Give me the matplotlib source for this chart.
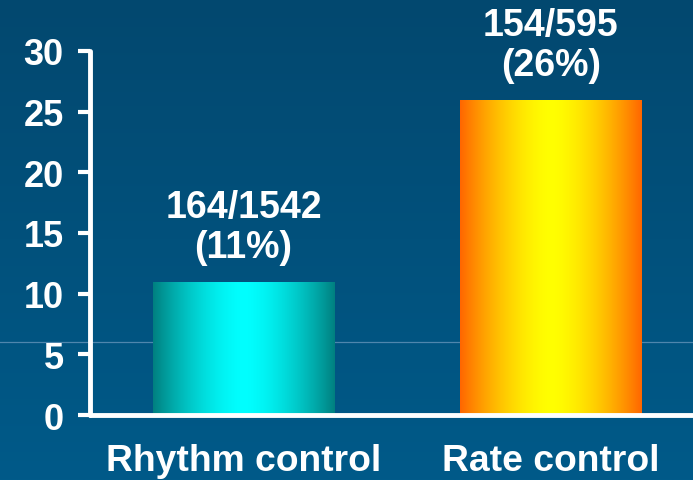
import numpy as np
import matplotlib
matplotlib.use("Agg")
import matplotlib.pyplot as plt
from matplotlib.lines import Line2D
from matplotlib.colors import to_rgb

# Data
categories = ["Rhythm control", "Rate control"]
events = [164, 154]
totals = [1542, 595]
percents = [11, 26]
y_ticks = [0, 5, 10, 15, 20, 25, 30]

# Bar gradient colours: (edge, centre)
bar_colors = [("#008080", "#00ffff"), ("#ff6600", "#ffff00")]

plt.rcParams["font.family"] = ["Liberation Sans", "DejaVu Sans"]
plt.rcParams["font.weight"] = "bold"

W, H = 693, 481
fig = plt.figure(figsize=(W / 100, H / 100), dpi=100)

# Background: vertical blue gradient
bg = fig.add_axes([0, 0, 1, 1], zorder=-3)
top_c = np.array(to_rgb("#03486f"))
bot_c = np.array(to_rgb("#005a89"))
t = np.linspace(0, 1, 256)[:, None]
grad = top_c[None, None, :] * (1 - t[..., None]) + bot_c[None, None, :] * t[..., None]
grad = np.repeat(grad, 2, axis=1)
bg.imshow(grad, aspect="auto", extent=(0, 1, 0, 1), origin="upper")
bg.set_axis_off()

# Thin horizontal rule across the slide
fig.add_artist(Line2D([0, 1], [1 - 343 / H, 1 - 343 / H], transform=fig.transFigure,
                      color="#4f86ad", lw=0.9, zorder=-2))

ax = fig.add_axes([90 / W, 1 - 416 / H, 1 - 90 / W, (416 - 52) / H], zorder=0)
ax.patch.set_alpha(0)

x = np.arange(len(categories))
bar_w = 0.59
bars = ax.bar(x, percents, width=bar_w, color="none", edgecolor="none", zorder=2)

prof = np.linspace(-1, 1, 400)
weight = np.clip(np.abs(prof), 0, 1) ** 1.6
for b, (edge, centre) in zip(bars, bar_colors):
    e = np.array(to_rgb(edge))
    c = np.array(to_rgb(centre))
    row = c[None, :] * (1 - weight[:, None]) + e[None, :] * weight[:, None]
    img = np.repeat(row[None, :, :], 2, axis=0)
    x0, w, h = b.get_x(), b.get_width(), b.get_height()
    im = ax.imshow(img, aspect="auto", extent=(x0, x0 + w, 0, h), zorder=2)
    im.set_clip_path(b)

for xi, n, tot, p in zip(x, events, totals, percents):
    ax.annotate(f"{n}/{tot}\n({p}%)", (xi, p), xytext=(0, 12), textcoords="offset points",
                ha="center", va="bottom", color="white", fontsize=27, fontweight="bold",
                linespacing=1.15)

ax.set_xlim(-0.499, 1.462)
ax.set_ylim(0, 30)
ax.set_yticks(y_ticks)
ax.set_xticks(x)
ax.set_xticklabels(categories)

for s in ["top", "right"]:
    ax.spines[s].set_visible(False)
for s in ["left", "bottom"]:
    ax.spines[s].set_color("white")
    ax.spines[s].set_linewidth(3.5)
    ax.spines[s].set_capstyle("round")

ax.tick_params(axis="y", colors="white", length=9, width=3, pad=10, labelsize=26)
ax.tick_params(axis="x", colors="white", length=0, pad=20, labelsize=26.8)
for lab in ax.get_yticklabels() + ax.get_xticklabels():
    lab.set_fontweight("bold")

fig.savefig("out.png", dpi=100)
